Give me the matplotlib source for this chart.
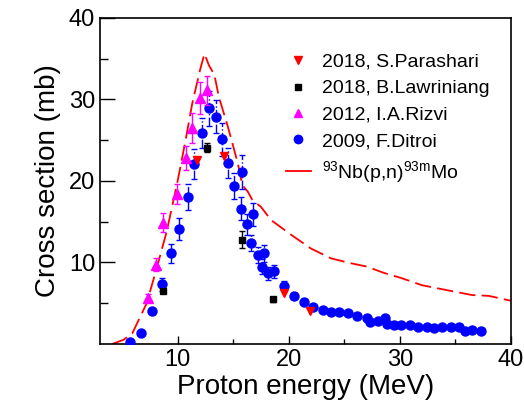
import numpy as np
import matplotlib
matplotlib.use("Agg")
import matplotlib.pyplot as plt
from matplotlib.ticker import FixedLocator
from matplotlib.lines import Line2D

plt.rcParams["font.family"] = ["Liberation Sans", "DejaVu Sans"]
plt.rcParams["mathtext.default"] = "regular"

# 2009, F.Ditroi
ditroi_x = [5.7, 6.7, 7.7, 8.6, 9.4, 10.1, 10.9, 11.5, 12.2, 12.8, 13.4, 14.0, 14.5, 15.1,
            15.7, 15.8, 16.2, 16.6, 16.8, 17.2, 17.6, 17.8, 18.1, 18.7, 19.6, 20.5, 21.4,
            22.2, 23.1, 23.8, 24.5, 25.3, 26.1, 27.0, 27.3, 28.0, 28.7, 28.8, 29.5, 30.1,
            30.9, 31.6, 32.4, 33.1, 33.8, 34.6, 35.3, 35.9, 36.5, 37.3]
ditroi_y = [0.2, 1.4, 4.0, 7.3, 11.1, 14.1, 18.0, 22.1, 25.9, 28.9, 27.9, 25.1, 22.2, 19.4,
            16.6, 21.1, 14.7, 12.4, 15.9, 10.9, 9.5, 11.1, 8.7, 8.9, 7.1, 5.9, 5.2,
            4.5, 4.2, 3.9, 3.9, 3.8, 3.4, 3.2, 2.7, 2.8, 3.2, 2.5, 2.3, 2.3,
            2.3, 2.1, 2.1, 1.9, 2.1, 2.1, 2.1, 1.6, 1.7, 1.6]
ditroi_err = [0.05, 0.1, 0.3, 0.8, 1.2, 1.4, 1.6, 1.8, 1.8, 2.1, 2.0, 2.0, 1.8, 1.6,
              1.4, 2.1, 1.3, 1.0, 1.4, 1.0, 0.9, 1.1, 0.8, 0.8, 0.6, 0.4, 0.3,
              0.2, 0.2, 0.2, 0.2, 0.2, 0.2, 0.2, 0.2, 0.2, 0.2, 0.2, 0.2, 0.2,
              0.1, 0.1, 0.1, 0.1, 0.1, 0.1, 0.1, 0.1, 0.1, 0.1]

# 2012, I.A.Rizvi
rizvi_x = [7.3, 8.0, 8.7, 9.9, 10.7, 11.3, 12.0, 12.6]
rizvi_y = [5.6, 9.7, 14.9, 18.4, 22.8, 26.5, 30.2, 31.1]
rizvi_err = [0.5, 0.8, 1.2, 1.2, 1.5, 1.8, 2.0, 1.8]

# 2018, S.Parashari
parashari_x = [11.7, 14.2, 19.6, 21.9]
parashari_y = [22.6, 23.1, 6.2, 4.1]

# 2018, B.Lawriniang
lawriniang_x = [8.7, 12.6, 15.8, 18.6]
lawriniang_y = [6.5, 24.1, 12.8, 5.5]
lawriniang_err = [0.3, 0.5, 1.0, 0.3]

# 93Nb(p,n)93mMo calculation
calc_x = [4.1, 5.1, 5.9, 7.2, 8.1, 9.0, 10.0, 10.7, 11.3, 12.0, 12.4, 12.8, 13.3, 13.7,
          14.5, 15.4, 15.8, 16.3, 16.7, 17.5, 18.4, 20.2, 22.0, 23.8, 25.6, 27.0, 28.6,
          30.1, 32.0, 33.5, 35.0, 36.5, 38.0, 40.0]
calc_y = [0.0, 0.5, 1.3, 5.0, 9.3, 13.8, 20.1, 25.0, 29.5, 33.6, 35.6, 34.2, 33.0, 30.3,
          26.7, 22.2, 19.5, 18.7, 17.7, 16.8, 15.2, 13.4, 11.7, 10.5, 9.9, 9.5, 8.7,
          8.1, 7.2, 6.8, 6.4, 6.0, 5.9, 5.3]

legend_labels = ["2018, S.Parashari", "2018, B.Lawriniang", "2012, I.A.Rizvi",
                 "2009, F.Ditroi", r"$^{93}$Nb(p,n)$^{93m}$Mo"]


def main():
    fig = plt.figure(figsize=(5.24, 4.08), dpi=100)
    ax = fig.add_axes([0.191, 0.157, 0.784, 0.799])

    ax.plot(calc_x, calc_y, color="red", lw=1.3, dashes=(9, 3.5), zorder=2)

    eb = ax.errorbar(ditroi_x, ditroi_y, yerr=ditroi_err, fmt="o", color="blue",
                     ms=6.5, capsize=2, elinewidth=1, zorder=3)
    eb[2][0].set_linestyle("-.")

    ax.errorbar(rizvi_x, rizvi_y, yerr=rizvi_err, fmt="^", color="magenta",
                ms=6.5, capsize=2, elinewidth=1, zorder=4)
    ax.errorbar(lawriniang_x, lawriniang_y, yerr=lawriniang_err, fmt="s", color="black",
                ms=5, capsize=2, elinewidth=1, zorder=5)
    ax.plot(parashari_x, parashari_y, "v", color="red", ms=6, zorder=5)

    ax.set_xlim(3, 40)
    ax.set_ylim(0, 40)
    ax.xaxis.set_major_locator(FixedLocator([10, 20, 30, 40]))
    ax.xaxis.set_minor_locator(FixedLocator([15, 25, 35]))
    ax.yaxis.set_major_locator(FixedLocator([10, 20, 30, 40]))
    ax.yaxis.set_minor_locator(FixedLocator([5, 15, 25, 35]))
    ax.tick_params(axis="both", which="both", direction="in", labelsize=17)
    ax.tick_params(axis="y", which="major", length=11, width=1)
    ax.tick_params(axis="y", which="minor", length=6, width=1)
    ax.tick_params(axis="x", which="major", length=6, width=1)
    ax.tick_params(axis="x", which="minor", length=3.5, width=1)
    for s in ax.spines.values():
        s.set_linewidth(1.2)

    ax.set_xlabel("Proton energy (MeV)", fontsize=20, labelpad=2)
    ax.set_ylabel("Cross section (mb)", fontsize=20, labelpad=6)

    leg_handles = [
        Line2D([], [], ls="none", marker="v", color="red", ms=6),
        Line2D([], [], ls="none", marker="s", color="black", ms=5),
        Line2D([], [], ls="none", marker="^", color="magenta", ms=6),
        Line2D([], [], ls="none", marker="o", color="blue", ms=6),
        Line2D([], [], color="red", lw=1.3),
    ]
    ax.legend(leg_handles, legend_labels, loc="upper right", frameon=False, fontsize=14,
              handlelength=1.3, handletextpad=0.55, labelspacing=0.45,
              bbox_to_anchor=(0.99, 0.945))

    plt.savefig("out.png", dpi=100)
    plt.close()


if __name__ == "__main__":
    main()
